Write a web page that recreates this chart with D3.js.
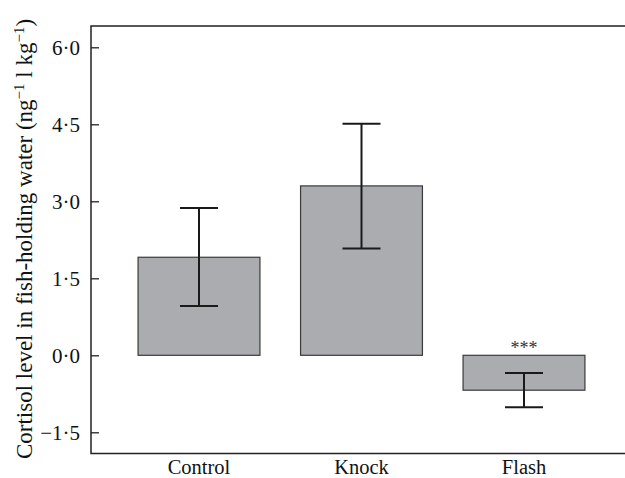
<!DOCTYPE html>
<html><head><meta charset="utf-8">
<script src="https://cdn.jsdelivr.net/npm/d3@7"></script>
<style>body{margin:0;background:#fff} svg text{font-family:'Liberation Serif','Times New Roman',serif}</style>
</head><body>
<svg id="c" width="625" height="478"></svg>
<script>
const categories = ["Control", "Knock", "Flash"];
const means = [1.91, 3.30, -0.68];
const errLow = [0.96, 2.08, -1.01];
const errHigh = [2.87, 4.51, -0.345];
const yTicks = [-1.5, 0, 1.5, 3.0, 4.5, 6.0];
const annotations = ["", "", "***"];

(function () {
const svg = d3.select("#c");
const font = "'Liberation Serif', 'Times New Roman', serif";
const mLeft = 91, mTop = 26, mRight = 625, mBottom = 453.5;

const y = d3.scaleLinear().domain([-1.5, 6.0]).range([432.3, 47.3]);
const x = d3.scaleBand().domain(categories).range([117.75, 605.25]).paddingInner(0.25).paddingOuter(0.125);

// bars
svg.selectAll("rect.bar").data(categories).enter().append("rect")
  .attr("x", d => x(d))
  .attr("width", x.bandwidth())
  .attr("y", (d, i) => y(Math.max(0, means[i])))
  .attr("height", (d, i) => Math.abs(y(means[i]) - y(0)))
  .attr("fill", "#abacaf").attr("stroke", "#3a3a3a").attr("stroke-width", 1.2);

// error bars
const capW = 38;
categories.forEach((c, i) => {
  const cx = x(c) + x.bandwidth() / 2;
  const g = svg.append("g").attr("stroke", "#1a1a1a").attr("stroke-width", 2);
  g.append("line").attr("x1", cx).attr("x2", cx).attr("y1", y(errLow[i])).attr("y2", y(errHigh[i]));
  g.append("line").attr("x1", cx - capW/2).attr("x2", cx + capW/2).attr("y1", y(errLow[i])).attr("y2", y(errLow[i]));
  g.append("line").attr("x1", cx - capW/2).attr("x2", cx + capW/2).attr("y1", y(errHigh[i])).attr("y2", y(errHigh[i]));
  if (annotations[i]) {
    svg.append("text").attr("x", cx).attr("y", y(0) - 1).attr("text-anchor", "middle")
      .style("font-family", font).attr("font-size", 18).attr("fill", "#333").text(annotations[i]);
  }
});

// axes frame
const axisColor = "#222";
svg.append("path").attr("d", `M${mRight},${mTop}H${mLeft}V${mBottom}H${mRight}`)
  .attr("fill", "none").attr("stroke", axisColor).attr("stroke-width", 1.5);

// y axis ticks (inward) and labels
const fmt = v => (v < 0 ? "\u2212" : "") + Math.abs(v).toFixed(1).replace(".", "\u00B7");
const yAxis = d3.axisLeft(y).tickValues(yTicks).tickSize(-8).tickPadding(11).tickFormat(fmt);
const ga = svg.append("g").attr("transform", `translate(${mLeft},0)`).call(yAxis);
ga.select(".domain").remove();
ga.attr("font-family", null);
ga.selectAll(".tick line").attr("stroke", axisColor).attr("stroke-width", 1.3);
ga.selectAll(".tick text").style("font-family", font).attr("font-size", 21).attr("fill", "#111").attr("dy", "0.33em");

// x labels
const xAxis = d3.axisBottom(x).tickSize(0).tickPadding(0);
const gx = svg.append("g").attr("transform", `translate(0,${mBottom})`).call(xAxis);
gx.select(".domain").remove();
gx.attr("font-family", null);
gx.selectAll(".tick text").style("font-family", font).attr("font-size", 20.5).attr("fill", "#111")
  .attr("dy", null).attr("y", 20.5);

// y title
const t = svg.append("text").attr("transform", "translate(32,239) rotate(-90)")
  .attr("text-anchor", "middle").style("font-family", font).attr("font-size", 23).attr("fill", "#111");
t.append("tspan").text("Cortisol level in fish-holding water (ng");
t.append("tspan").attr("dy", -8).attr("font-size", 15).text("\u22121");
t.append("tspan").attr("dy", 8).text(" l kg");
t.append("tspan").attr("dy", -8).attr("font-size", 15).text("\u22121");
t.append("tspan").attr("dy", 8).text(")");
})();
</script>
</body></html>
